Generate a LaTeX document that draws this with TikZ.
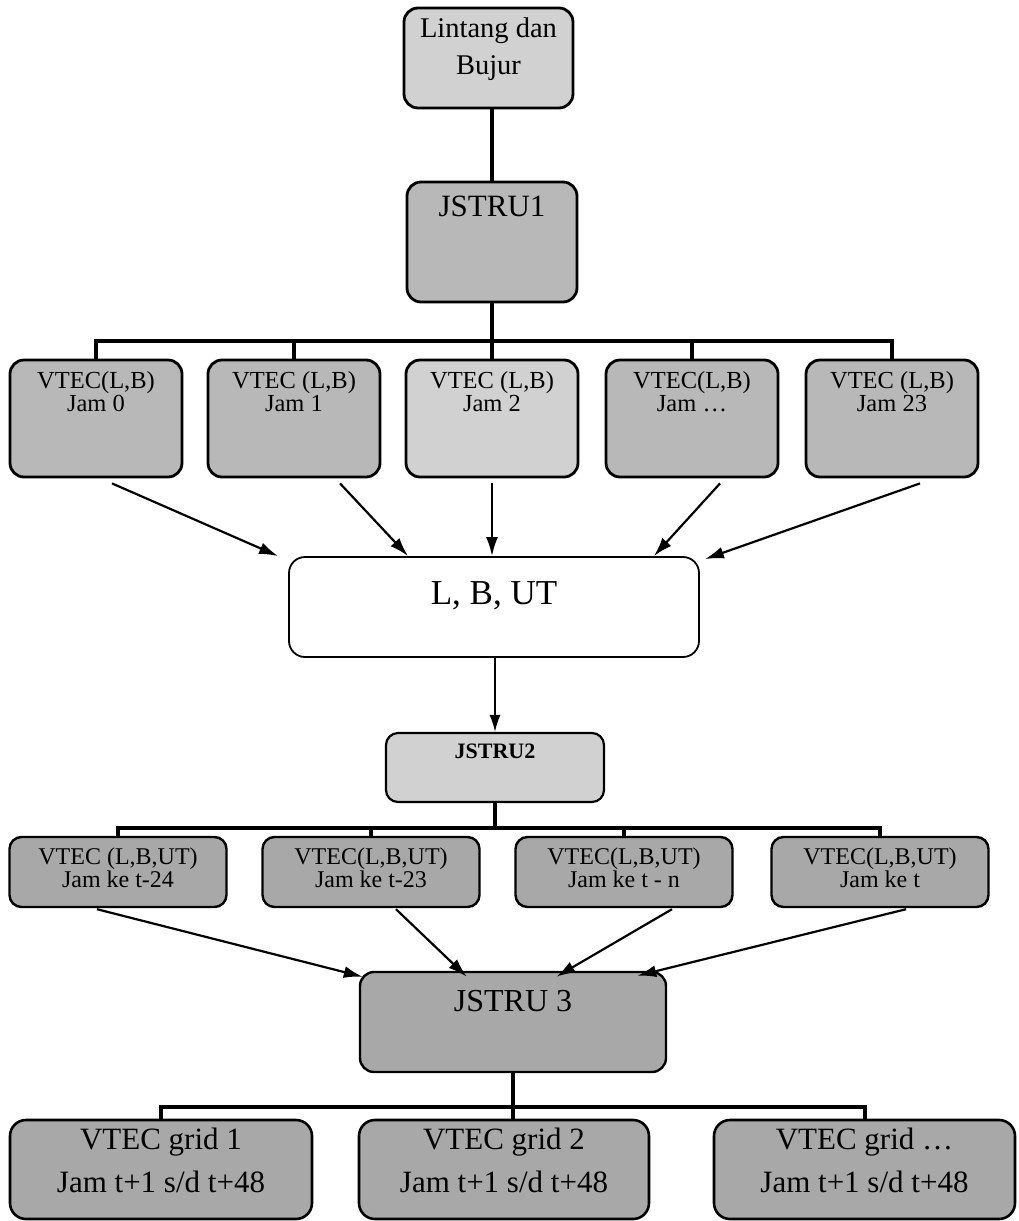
\documentclass[tikz,border=0pt]{standalone}
\usepackage{fontspec}
\setmainfont{Liberation Serif}
\usetikzlibrary{arrows.meta}
\definecolor{tintA}{gray}{0.82}
\definecolor{tintB}{gray}{0.72}
\definecolor{tintC}{gray}{0.66}
\begin{document}
\begin{tikzpicture}[x=1pt,y=-1pt,
  box/.style={draw=black, line width=2.8pt, rounded corners=14pt, inner sep=0pt},
  txt/.style={align=center, inner sep=0pt, text=black},
  bus/.style={line width=4pt},
  arr/.style={line width=2.2pt, -{Latex[length=19pt,width=12pt]}},
  thinarr/.style={line width=1.6pt, -{Latex[length=17pt,width=11pt]}},
  fs/.style={font=\fontsize{#1}{#1}\selectfont}
]
\useasboundingbox (0,0) rectangle (1018,1221);

% ---- top: coordinates and first structure ----
\node[box, fill=tintA, minimum width=169pt, minimum height=100pt] (lb) at (488.5,58) {};
\node[txt, font=\fontsize{28.5}{37}\selectfont] (lbt) at (488.5,49) {Lintang dan\\Bujur};

\node[box, fill=tintB, minimum width=170pt, minimum height=120pt] (j1) at (492,242) {};
\node[txt, fs=31] (j1t) at (492,206) {JSTRU1};

\draw[line width=4.6pt] (lb.south -| j1.south) -- (j1.north);

% ---- hourly VTEC boxes ----
\foreach \n/\x/\t in {a/96/{VTEC(L,B)\\Jam 0}, b/294/{VTEC (L,B)\\Jam 1},
                      d/692/{VTEC(L,B)\\Jam \dots}, e/892/{VTEC (L,B)\\Jam 23}} {
  \node[box, fill=tintB, minimum width=172pt, minimum height=117pt] (r\n) at (\x,418.5) {};
  \node[txt, font=\fontsize{24.5}{23}\selectfont] (r\n t) at (\x,392) {\t};
}
\node[box, fill=tintA, minimum width=172pt, minimum height=117pt] (rc) at (492,418.5) {};
\node[txt, font=\fontsize{24.5}{23}\selectfont] (rct) at (492,392) {VTEC (L,B)\\Jam 2};

\draw[bus] (j1.south) -- (rc.north);
\draw[bus] (ra.north) -- ++(0,-18) -| (re.north);
\foreach \n in {b,d} \draw[bus] (r\n.north) -- ++(0,-18);

% ---- combined L, B, UT ----
\node[box, fill=white, line width=1.8pt, rounded corners=16pt,
      minimum width=410pt, minimum height=100pt] (lbut) at (494,607) {};
\node[txt, fs=35] (lbutt) at (494,596) {L, B, UT};

\draw[arr] ([xshift=16pt,yshift=-5pt]ra.south) -- ([xshift=-10pt]lbut.north west);
\draw[arr] ([xshift=46pt,yshift=-5pt]rb.south) -- ([xshift=120pt]lbut.north west);
\draw[arr] ([yshift=-5pt]rc.south) -- (lbut.north -| rc.south);
\draw[arr] ([xshift=28pt,yshift=-5pt]rd.south) -- ([xshift=-46pt]lbut.north east);
\draw[arr] ([xshift=28pt,yshift=-5pt]re.south) -- ([xshift=5pt,yshift=-3pt]lbut.north east);

% ---- second structure ----
\node[box, fill=tintA, line width=2.2pt, rounded corners=12pt,
      minimum width=218pt, minimum height=69pt] (j2) at (495,767.5) {};
\node[txt, font=\fontsize{22}{22}\selectfont\bfseries] (j2t) at (495,751) {JSTRU2};

\draw[thinarr] (lbut.south -| j2.north) -- (j2.north);

% ---- VTEC per hour (L,B,UT) ----
\foreach \n/\x/\t in {a/118/{VTEC (L,B,UT)\\Jam ke t-24}, b/371/{VTEC(L,B,UT)\\Jam ke t-23},
                      c/624/{VTEC(L,B,UT)\\Jam ke t - n}, d/880/{VTEC(L,B,UT)\\Jam ke t}} {
  \node[box, fill=tintC, line width=2.4pt, rounded corners=12pt,
        minimum width=217pt, minimum height=70pt] (s\n) at (\x,872) {};
  \node[txt, font=\fontsize{24}{23}\selectfont] (s\n t) at (\x,868) {\t};
}

\draw[bus] (j2.south) -- (j2.south |- 0,829);
\draw[bus] (sa.north) -- ++(0,-8) -| (sd.north);
\foreach \n in {b,c} \draw[bus] (s\n.north) -- ++(0,-8);

% ---- third structure ----
\node[box, fill=tintC, line width=2.4pt, rounded corners=14pt,
      minimum width=306pt, minimum height=100pt] (j3) at (513,1022) {};
\node[txt, fs=32] (j3t) at (513,1001) {JSTRU 3};

\draw[arr] ([xshift=-21pt,yshift=-1pt]sa.south) -- ([xshift=4pt,yshift=-6pt]j3.north west);
\draw[arr] ([xshift=25pt,yshift=-1pt]sb.south) -- ([xshift=108pt,yshift=-6pt]j3.north west);
\draw[arr] ([xshift=48pt,yshift=-1pt]sc.south) -- ([xshift=-111pt,yshift=-6pt]j3.north east);
\draw[arr] ([xshift=26pt,yshift=-1pt]sd.south) -- ([xshift=-30pt,yshift=-5pt]j3.north east);

% ---- gridded forecast boxes ----
\foreach \n/\x/\w/\t in {a/161/302/{VTEC grid 1\\Jam t+1 s/d t+48},
                         b/504/290/{VTEC grid 2\\Jam t+1 s/d t+48},
                         c/864.5/301/{VTEC grid \dots\\Jam t+1 s/d t+48}} {
  \node[box, fill=tintC, line width=2.6pt, rounded corners=16pt,
        minimum width=\w pt, minimum height=99pt] (g\n) at (\x,1169.5) {};
  \node[txt, font=\fontsize{31}{43}\selectfont] (g\n t) at (\x,1160) {\t};
}

\draw[bus] (j3.south) -- (j3.south |- gb.north);
\draw[bus] (ga.north) -- ++(0,-12) -| (gc.north);
\end{tikzpicture}
\end{document}
